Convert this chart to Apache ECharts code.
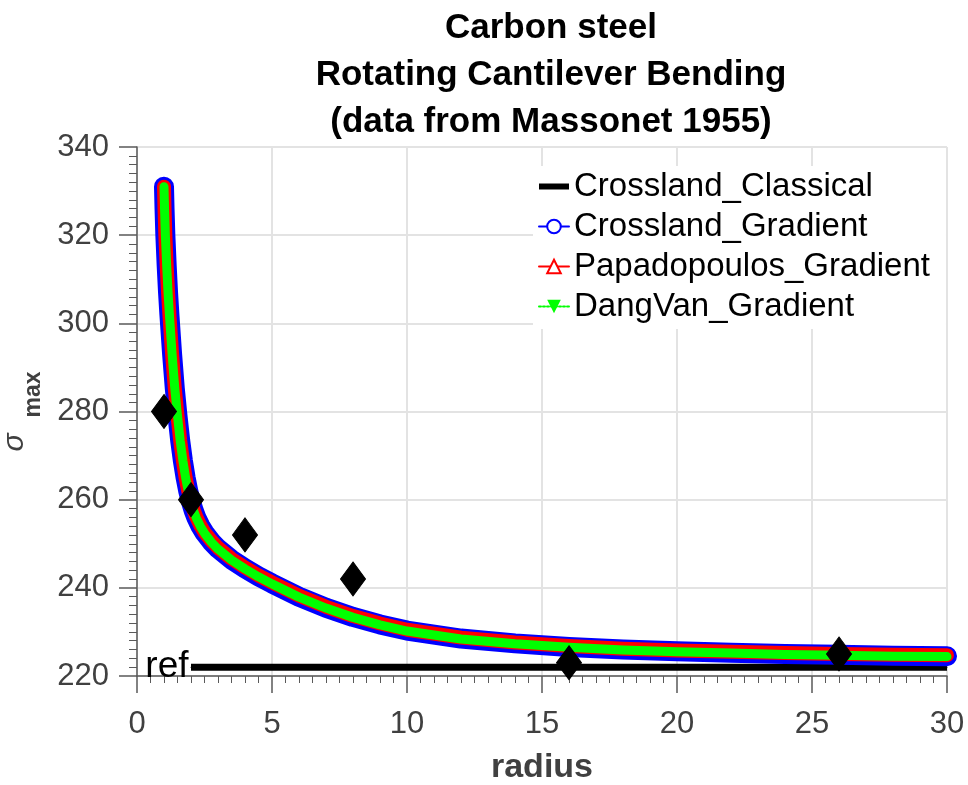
<!DOCTYPE html>
<html>
<head>
<meta charset="utf-8">
<script src="https://cdn.jsdelivr.net/npm/echarts@6/dist/echarts.min.js"></script>
<style>
  html, body { margin: 0; padding: 0; background: #fff; }
  #chart { width: 968px; height: 785px; }
</style>
</head>
<body>
<div id="chart"></div>
<script>
// Notch radius values where the gradient criteria are evaluated
const radius = [1, 1.02, 1.05, 1.1, 1.15, 1.2, 1.3, 1.4, 1.5, 1.6, 1.7, 1.8, 1.9, 2, 2.1, 2.2, 2.35, 2.5, 2.75, 3, 3.5, 4, 4.5, 5, 6, 7, 8, 9, 10, 12, 14, 16, 18, 20, 22, 24, 26, 28, 30];

// Predicted fatigue limit (sigma max) for each criterion
const crosslandGradient = [331, 326, 320, 313, 307, 302, 293, 285.2, 279, 273.4, 268.8, 265, 261.9, 259.5, 257.5, 255.9, 254, 252.5, 250.5, 248.9, 246.4, 244.4, 242.6, 241, 238, 235.5, 233.4, 231.7, 230.3, 228.5, 227.4, 226.6, 226, 225.6, 225.3, 225, 224.8, 224.6, 224.5];
const papadopoulosGradient = [331, 326, 320, 313, 307, 302, 293, 285.2, 279, 273.4, 268.8, 265, 261.9, 259.6, 257.6, 256, 254.1, 252.6, 250.7, 249.1, 246.6, 244.6, 242.8, 241.2, 238.2, 235.7, 233.6, 231.9, 230.5, 228.7, 227.6, 226.8, 226.2, 225.8, 225.5, 225.2, 225, 224.8, 224.7];
const dangVanGradient = [331, 326, 320, 313, 307, 302, 293, 285.2, 279, 273.4, 268.8, 265, 261.9, 259.5, 257.4, 255.8, 253.9, 252.4, 250.4, 248.8, 246.3, 244.3, 242.5, 240.9, 237.9, 235.4, 233.3, 231.6, 230.2, 228.4, 227.3, 226.5, 225.9, 225.5, 225.2, 224.9, 224.7, 224.5, 224.4];

// Classical Crossland reference level
const classicalRadius = [2, 30];
const classicalSigma = [222, 222];

// Experimental points (Massonet 1955)
const expRadius = [1, 2, 4, 8, 16, 26];
const expSigma = [280, 260, 252, 242, 223, 225];

// Axis ticks
const xTicks = [0, 5, 10, 15, 20, 25, 30];
const yTicks = [220, 240, 260, 280, 300, 320, 340];

const pair = (xs, ys) => xs.map((x, i) => [x, ys[i]]);

const FONT = '"Liberation Sans", Arial, Helvetica, sans-serif';
const AXIS_GRAY = '#404040';

const chart = echarts.init(document.getElementById('chart'), null, { renderer: 'canvas' });

const classicalData = pair(classicalRadius, classicalSigma).map((p, i) => i === 0
  ? { value: p, label: { show: true, formatter: 'ref', position: 'left', distance: 2, fontSize: 37, color: '#000', fontFamily: FONT } }
  : { value: p });

chart.setOption({
  animation: false,
  backgroundColor: '#fff',
  title: {
    text: 'Carbon steel\nRotating Cantilever Bending\n(data from Massonet 1955)',
    left: 546,
    textAlign: 'center',
    top: 0,
    textStyle: { fontSize: 35, fontWeight: 'bold', color: '#000', lineHeight: 47, fontFamily: FONT }
  },
  grid: { left: 137, right: 21, top: 147, bottom: 109, containLabel: false, outerBoundsMode: 'none' },
  legend: {
    orient: 'vertical',
    left: 533,
    top: 166,
    itemWidth: 30,
    itemHeight: 17,
    itemGap: 7,
    padding: [4, 16, 6, 5],
    backgroundColor: '#fff',
    selectedMode: false,
    textStyle: { fontSize: 33, color: '#000', fontFamily: FONT },
    data: [
      { name: 'Crossland_Classical', icon: 'path://M0,0H30V6H0Z', itemStyle: { color: '#000' } },
      { name: 'Crossland_Gradient', lineStyle: { width: 2 } },
      { name: 'Papadopoulos_Gradient', lineStyle: { width: 2 } },
      { name: 'DangVan_Gradient', lineStyle: { width: 2, type: 'dotted' } }
    ]
  },
  xAxis: {
    type: 'value',
    min: xTicks[0],
    max: xTicks[xTicks.length - 1],
    interval: 5,
    name: 'radius',
    nameLocation: 'middle',
    nameGap: 75,
    nameTextStyle: { fontSize: 34, fontWeight: 'bold', color: AXIS_GRAY, fontFamily: FONT },
    axisLine: { show: true, onZero: false, lineStyle: { color: '#5a5a5a', width: 1.5 } },
    axisTick: { show: true, length: 17, lineStyle: { color: '#5a5a5a', width: 1.5 } },
    minorTick: { show: true, splitNumber: 10, length: 7, lineStyle: { color: '#5a5a5a', width: 1 } },
    axisLabel: { fontSize: 31, color: AXIS_GRAY, margin: 33, fontFamily: FONT },
    splitLine: { show: true, lineStyle: { color: '#e3e3e3', width: 2 } }
  },
  yAxis: {
    type: 'value',
    min: yTicks[0],
    max: yTicks[yTicks.length - 1],
    interval: 20,
    name: '{s|σ}{m|max}',
    nameLocation: 'middle',
    nameRotate: 90,
    nameGap: 92,
    nameTextStyle: {
      color: AXIS_GRAY,
      rich: {
        s: { fontSize: 30, fontStyle: 'italic', color: AXIS_GRAY, fontFamily: FONT, verticalAlign: 'top' },
        m: { fontSize: 23, fontWeight: 'bold', color: AXIS_GRAY, fontFamily: FONT, verticalAlign: 'top', padding: [22, 0, 0, 16] }
      }
    },
    axisLine: { show: true, onZero: false, lineStyle: { color: '#5a5a5a', width: 1.5 } },
    axisTick: { show: true, length: 18, lineStyle: { color: '#5a5a5a', width: 1.5 } },
    minorTick: { show: true, splitNumber: 10, length: 8, lineStyle: { color: '#5a5a5a', width: 1 } },
    axisLabel: { fontSize: 31, color: AXIS_GRAY, margin: 28, fontFamily: FONT },
    splitLine: { show: true, lineStyle: { color: '#e3e3e3', width: 2 } }
  },
  series: [
    {
      name: 'Crossland_Classical',
      type: 'line',
      data: classicalData,
      symbol: 'circle',
      symbolSize: 1,
      color: '#000',
      lineStyle: { width: 7, color: '#000' },
      z: 3
    },
    {
      name: 'Crossland_Gradient',
      type: 'line',
      data: pair(radius, crosslandGradient),
      symbol: 'emptyCircle',
      showSymbol: false,
      color: '#0000ff',
      lineStyle: { width: 20, color: '#0000ff', cap: 'round', join: 'round' },
      z: 4
    },
    {
      name: 'Papadopoulos_Gradient',
      type: 'line',
      data: pair(radius, papadopoulosGradient),
      symbol: 'emptyTriangle',
      showSymbol: false,
      color: '#ff0000',
      lineStyle: { width: 14, color: '#ff0000', cap: 'round', join: 'round' },
      z: 5
    },
    {
      name: 'DangVan_Gradient',
      type: 'line',
      data: pair(radius, dangVanGradient),
      symbol: 'triangle',
      symbolRotate: 180,
      showSymbol: false,
      color: '#00ff00',
      lineStyle: { width: 9, color: '#00ff00', cap: 'round', join: 'round' },
      z: 6
    },
    {
      name: 'Experiments',
      type: 'scatter',
      data: pair(expRadius, expSigma),
      symbol: 'diamond',
      symbolSize: [25, 34],
      itemStyle: { color: '#000', borderColor: '#000', borderWidth: 1, opacity: 1 },
      z: 10
    }
  ]
});
</script>
</body>
</html>
